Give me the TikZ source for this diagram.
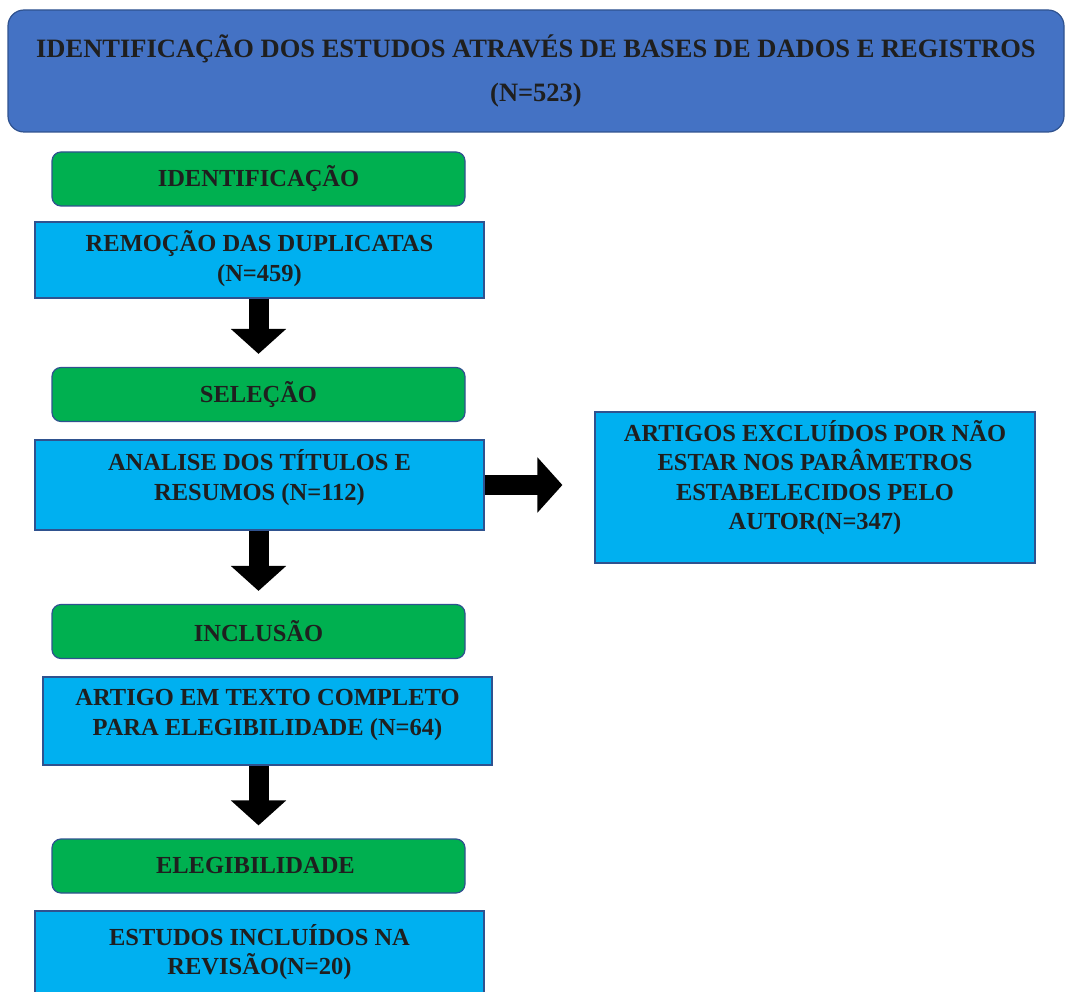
\documentclass[tikz,border=0pt]{standalone}
\usepackage{fontspec}
\setmainfont{Liberation Serif}
\usetikzlibrary{arrows.meta}

\definecolor{bannerblue}{HTML}{4472C4}
\definecolor{stagegreen}{HTML}{00B050}
\definecolor{boxblue}{HTML}{00B0F0}
\definecolor{edgeblue}{HTML}{2F528F}

\begin{document}
\begin{tikzpicture}[
    x=1pt, y=-1pt,
    label text/.style={
        font=\bfseries\fontsize{24.5}{29.5}\selectfont,
        text=black!88,
        align=center
    },
    banner/.style={
        label text,
        font=\bfseries\fontsize{26.5}{32}\selectfont,
        fill=bannerblue,
        draw=edgeblue,
        line width=1.2pt,
        rounded corners=16,
        minimum width=1056,
        minimum height=122
    },
    stage/.style={
        label text,
        fill=stagegreen,
        draw=edgeblue,
        line width=1.2pt,
        rounded corners=9,
        minimum width=413,
        minimum height=54
    },
    box/.style={
        label text,
        fill=boxblue,
        draw=edgeblue,
        line width=1.2pt,
        inner ysep=0pt,
        minimum width=449
    },
    blockarrow/.style={
        line width=20pt,
        -{Triangle[length=25pt,width=54pt]},
        shorten >=13pt
    }
]
\useasboundingbox (0,0) rectangle (1066,992);
\clip (0,0) rectangle (1066,992);

\node[banner] (banner) at (536,71)
    {IDENTIFICAÇÃO DOS ESTUDOS ATRAVÉS DE BASES DE DADOS E REGISTROS\\[12pt](N=523)};

% Stages are listed from top to bottom.
\foreach \y/\stagename [count=\i] in {
    179/IDENTIFICAÇÃO,
    394.5/SELEÇÃO,
    631.5/INCLUSÃO,
    866/ELEGIBILIDADE
}{
    \node[stage] (stage\i) at (258.5,\y) {\stagename};
}

\node[box, minimum height=76, text depth=8] (remocao) at (259.5,260)
    {REMOÇÃO DAS DUPLICATAS\\(N=459)};
\node[box, minimum height=90, text depth=20] (analise) at (259.5,485)
    {ANALISE DOS TÍTULOS E\\RESUMOS (N=112)};
\node[box, minimum width=440, minimum height=151, text depth=25] (excluidos) at (815,487.5)
    {ARTIGOS EXCLUÍDOS POR NÃO\\ESTAR NOS PARÂMETROS\\ESTABELECIDOS PELO\\AUTOR(N=347)};
\node[box, minimum height=88, text depth=17] (artigo) at (267.5,721)
    {ARTIGO EM TEXTO COMPLETO\\PARA ELEGIBILIDADE (N=64)};
\node[box, minimum height=95, text depth=18] (estudos) at (259.5,958.5)
    {ESTUDOS INCLUÍDOS NA\\REVISÃO(N=20)};

\foreach \from/\to in {remocao/stage2, analise/stage3, artigo/stage4}{
    \draw[blockarrow] (\from.south -| \to) -- (\to.north);
}

\draw[blockarrow, shorten >=32pt] (analise.east) -- (analise.east -| excluidos.west);
\end{tikzpicture}
\end{document}
